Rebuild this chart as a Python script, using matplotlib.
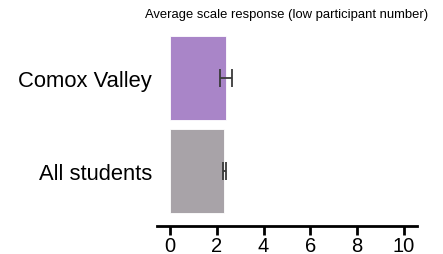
import matplotlib.pyplot as plt
import numpy as np

plt.rcParams["font.family"] = ["Liberation Sans", "DejaVu Sans"]

groups = ["All students", "Comox Valley"]
means = [2.31, 2.38]
errs = [0.06, 0.25]
colors = ["#a8a3a8", "#a985c8"]
xticks = [0, 2, 4, 6, 8, 10]

fig = plt.figure(figsize=(4.43, 2.55), dpi=100)
ax = fig.add_axes([157 / 443, 28 / 255, 260 / 443, 197 / 255])

y = np.arange(len(groups))
ax.barh(y, means, height=0.9, color=colors, edgecolor="white", linewidth=0.6)
ax.errorbar(means, y, xerr=errs, fmt="none", ecolor="#3a3a3a",
            elinewidth=1.3, capsize=6.8, capthick=1.3)

ax.set_xlim(-0.56, 10.56)
ax.set_ylim(-0.59, 1.52)
ax.set_xticks(xticks)
ax.set_yticks(y)
ax.set_yticklabels(groups, fontsize=15.8)
ax.tick_params(axis="x", labelsize=14.5, width=2, length=6.5, pad=0.5)
ax.tick_params(axis="y", length=0, pad=3.5)

for s in ["top", "right", "left"]:
    ax.spines[s].set_visible(False)
ax.spines["bottom"].set_linewidth(2)

fig.text(287 / 443, 1 - 15 / 255, "Average scale response (low participant number)",
         ha="center", va="center", fontsize=9.4)

fig.savefig("out.png", dpi=100)
